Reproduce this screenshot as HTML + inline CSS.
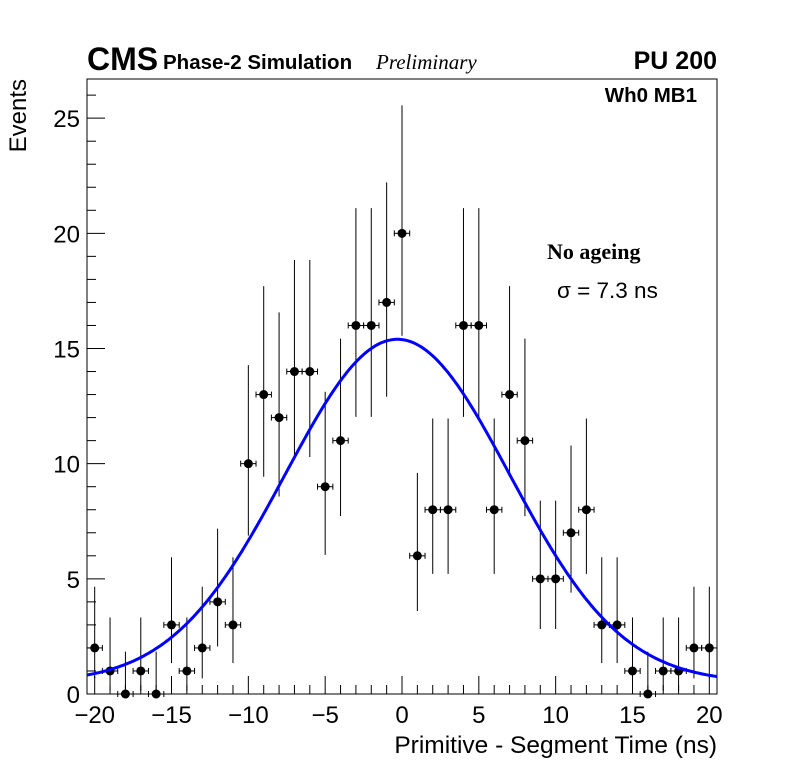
<!DOCTYPE html>
<html><head><meta charset="utf-8"><style>
body{margin:0;background:#fff}
svg text{font-family:"Liberation Sans",sans-serif}
</style></head><body>
<svg id="chart" width="796" height="772" viewBox="0 0 796 772" xmlns="http://www.w3.org/2000/svg">
<rect width="796" height="772" fill="#fff"/>
<g id="plot"></g>
<text x="87" y="70" font-size="32" font-weight="bold">CMS</text>
<text x="163" y="69" font-size="20.5" font-weight="bold">Phase-2 Simulation</text>
<text x="376" y="69" font-size="21" font-style="italic" style="font-family:'Liberation Serif',serif">Preliminary</text>
<text x="717" y="69" font-size="25" font-weight="bold" text-anchor="end">PU 200</text>
<text x="697" y="102" font-size="20.5" font-weight="bold" text-anchor="end">Wh0 MB1</text>
<text x="547" y="259" font-size="22" font-weight="bold" style="font-family:'Liberation Serif',serif">No ageing</text>
<text x="557" y="298" font-size="22.5">σ = 7.3 ns</text>
<text x="717" y="753" font-size="24.5" text-anchor="end">Primitive - Segment Time (ns)</text>
<text x="0" y="0" font-size="24" text-anchor="end" transform="translate(26,79) rotate(-90)">Events</text>
</svg>
<script>
const binCenters=[-20,-19,-18,-17,-16,-15,-14,-13,-12,-11,-10,-9,-8,-7,-6,-5,-4,-3,-2,-1,0,1,2,3,4,5,6,7,8,9,10,11,12,13,14,15,16,17,18,19,20];
const counts=[2,1,0,1,0,3,1,2,4,3,10,13,12,14,14,9,11,16,16,17,20,6,8,8,16,16,8,13,11,5,5,7,8,3,3,1,0,1,1,2,2];
const xTicks=[-20,-15,-10,-5,0,5,10,15,20];
const yTicks=[0,5,10,15,20,25];
const fitAmp=[14.9];const fitMean=[-0.3];const fitSigma=[7.3];const fitConst=[0.5];
const X0=87,X1=717,Y0=694,Y1=79,xmin=-20.5,xmax=20.5,ymin=0,ymax=26.7;
const sx=v=>X0+(v-xmin)/(xmax-xmin)*(X1-X0);
const sy=v=>Y0-(v-ymin)/(ymax-ymin)*(Y0-Y1);
const NS="http://www.w3.org/2000/svg";
const g=document.getElementById('plot');
function mk(t,a){const e=document.createElementNS(NS,t);for(const k in a)e.setAttribute(k,a[k]);g.appendChild(e);return e;}
let f=mk('rect',{x:X0,y:Y1,width:X1-X0,height:Y0-Y1,fill:'none',stroke:'#000','stroke-width':1});


for(let v=-20;v<=20;v++){const maj=v%5===0;let t=mk('line',{x1:sx(v),x2:sx(v),y1:Y0,y2:Y0-(maj?18:9),stroke:'#000'});

}
for(let v=0;v<=26;v++){const maj=v%5===0;let t=mk('line',{x1:X0,x2:X0+(maj?18:9),y1:sy(v),y2:sy(v),stroke:'#000'});

}
xTicks.forEach(v=>{let t=mk('text',{x:sx(v),y:723,'font-size':24,'text-anchor':'middle'});t.textContent=(v<0?'\u2212'+(-v):v);

});
yTicks.forEach(v=>{let t=mk('text',{x:80,y:sy(v)+9,'font-size':24,'text-anchor':'end'});t.textContent=v;

});
binCenters.forEach((c,i)=>{const n=counts[i];
const lo=n>0?n-Math.sqrt(n-0.25):0, hi=n>0?n+Math.sqrt(n+0.75)+1:1.84;
const grp=document.createElementNS(NS,'g');g.appendChild(grp);


const add=(t,a)=>{const e=document.createElementNS(NS,t);for(const k in a)e.setAttribute(k,a[k]);grp.appendChild(e);};
const x=sx(c),y=sy(n);
add('line',{x1:x,x2:x,y1:sy(Math.max(lo,0)),y2:sy(hi),stroke:'#000'});
add('line',{x1:sx(c-0.5),x2:sx(c+0.5),y1:y,y2:y,stroke:'#000'});
add('line',{x1:sx(c-0.5),x2:sx(c-0.5),y1:y-3,y2:y+3,stroke:'#000'});
add('line',{x1:sx(c+0.5),x2:sx(c+0.5),y1:y-3,y2:y+3,stroke:'#000'});
add('circle',{cx:x,cy:y,r:4.5,fill:'#000'});
});
let d='';for(let k=0;k<=300;k++){const v=xmin+(xmax-xmin)*k/300;const yv=fitAmp[0]*Math.exp(-Math.pow(v-fitMean[0],2)/(2*fitSigma[0]*fitSigma[0]))+fitConst[0];d+=(k?'L':'M')+sx(v).toFixed(1)+' '+sy(yv).toFixed(1);}
let p=mk('path',{d:d,fill:'none',stroke:'#0000ff','stroke-width':3});


</script>
</body></html>
